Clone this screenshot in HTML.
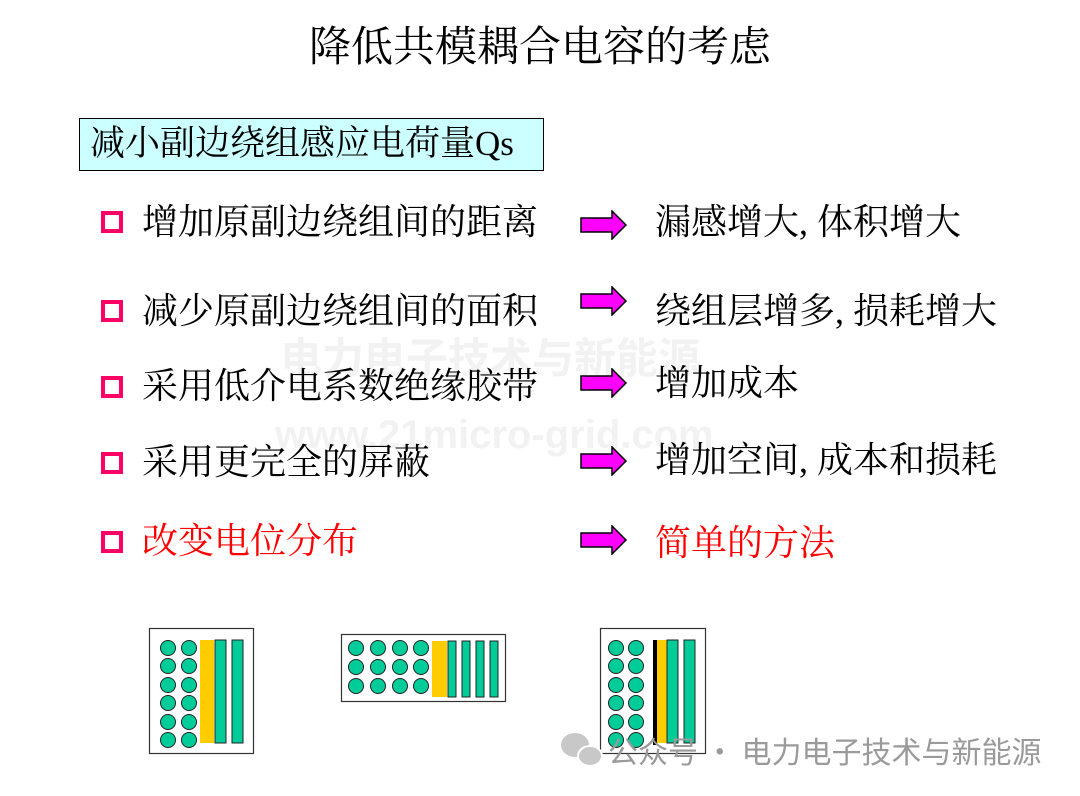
<!DOCTYPE html>
<html><head><meta charset="utf-8"><style>
body{margin:0;width:1080px;height:796px;background:#fff;position:relative;overflow:hidden;font-family:"Liberation Serif","Noto Serif CJK SC",serif;}
.t{position:absolute;white-space:nowrap;line-height:1;}
.sq{position:absolute;left:101px;width:14px;height:14px;border:4px solid #ff0066;background:#fff;}
.ar{position:absolute;left:580px;}
.i{font-size:36px;}
</style></head><body>
<div class="t" style="left:0;width:1080px;text-align:center;top:27px;font-size:42px;">降低共模耦合电容的考虑</div>
<div style="position:absolute;left:79px;top:118px;width:463px;height:51px;background:#ccffff;border:1px solid #000;"></div>
<div class="t" style="left:90px;top:126px;font-size:35px;">减小副边绕组感应电荷量Qs</div>

<div class="t" style="left:280px;top:335px;font-size:42px;color:#f2f2f2;font-weight:bold;font-family:'Noto Sans CJK SC',sans-serif">电力电子技术与新能源</div>
<div class="t" style="left:275px;top:415px;font-size:40px;color:#f2f2f2;font-weight:bold;font-family:'Liberation Sans',sans-serif">www.21micro-grid.com</div>

<div class="sq" style="top:211px"></div><div class="t i" style="left:142px;top:204px;">增加原副边绕组间的距离</div>
<div class="sq" style="top:300px"></div><div class="t i" style="left:142px;top:293px;">减少原副边绕组间的面积</div>
<div class="sq" style="top:376px"></div><div class="t i" style="left:142px;top:368px;">采用低介电系数绝缘胶带</div>
<div class="sq" style="top:452px"></div><div class="t i" style="left:142px;top:444px;">采用更完全的屏蔽</div>
<div class="sq" style="top:531px"></div><div class="t i" style="left:142px;top:523px;color:#ff0000;">改变电位分布</div>

<svg class="ar" style="top:210px" width="48" height="30"><polygon points="1,8 32,8 32,1 46,15 32,29 32,22 1,22" fill="#ff00ff" stroke="#000" stroke-width="1.5"/></svg>
<svg class="ar" style="top:286px" width="48" height="30"><polygon points="1,8 32,8 32,1 46,15 32,29 32,22 1,22" fill="#ff00ff" stroke="#000" stroke-width="1.5"/></svg>
<svg class="ar" style="top:368px" width="48" height="30"><polygon points="1,8 32,8 32,1 46,15 32,29 32,22 1,22" fill="#ff00ff" stroke="#000" stroke-width="1.5"/></svg>
<svg class="ar" style="top:446px" width="48" height="30"><polygon points="1,8 32,8 32,1 46,15 32,29 32,22 1,22" fill="#ff00ff" stroke="#000" stroke-width="1.5"/></svg>
<svg class="ar" style="top:525px" width="48" height="30"><polygon points="1,8 32,8 32,1 46,15 32,29 32,22 1,22" fill="#ff00ff" stroke="#000" stroke-width="1.5"/></svg>

<div class="t i" style="left:655px;top:204px;">漏感增大, 体积增大</div>
<div class="t i" style="left:655px;top:293px;">绕组层增多, 损耗增大</div>
<div class="t i" style="left:655px;top:365px;">增加成本</div>
<div class="t i" style="left:655px;top:442px;">增加空间, 成本和损耗</div>
<div class="t i" style="left:655px;top:525px;color:#ff0000;">简单的方法</div>

<svg style="position:absolute;left:0;top:0" width="1080" height="796">
<g stroke="#333" stroke-width="1.2">
<rect x="149.5" y="628.5" width="104" height="125" fill="#fff"/>
<rect x="341.5" y="634.5" width="164" height="67" fill="#fff"/>
<rect x="600.5" y="628.5" width="105" height="125" fill="#fff"/>
</g>
<g fill="#00cc99" stroke="#222" stroke-width="1">
<circle cx="168" cy="648" r="7.5"/><circle cx="189" cy="648" r="7.5"/>
<circle cx="168" cy="666" r="7.5"/><circle cx="189" cy="666" r="7.5"/>
<circle cx="168" cy="685" r="7.5"/><circle cx="189" cy="685" r="7.5"/>
<circle cx="168" cy="703" r="7.5"/><circle cx="189" cy="703" r="7.5"/>
<circle cx="168" cy="722" r="7.5"/><circle cx="189" cy="722" r="7.5"/>
<circle cx="168" cy="740" r="7.5"/><circle cx="189" cy="740" r="7.5"/>
<circle cx="356" cy="648" r="7.5"/><circle cx="378" cy="648" r="7.5"/><circle cx="400" cy="648" r="7.5"/><circle cx="421" cy="648" r="7.5"/>
<circle cx="356" cy="667" r="7.5"/><circle cx="378" cy="667" r="7.5"/><circle cx="400" cy="667" r="7.5"/><circle cx="421" cy="667" r="7.5"/>
<circle cx="356" cy="686" r="7.5"/><circle cx="378" cy="686" r="7.5"/><circle cx="400" cy="686" r="7.5"/><circle cx="421" cy="686" r="7.5"/>
<circle cx="616" cy="648" r="7.5"/><circle cx="636" cy="648" r="7.5"/>
<circle cx="616" cy="666" r="7.5"/><circle cx="636" cy="666" r="7.5"/>
<circle cx="616" cy="685" r="7.5"/><circle cx="636" cy="685" r="7.5"/>
<circle cx="616" cy="703" r="7.5"/><circle cx="636" cy="703" r="7.5"/>
<circle cx="616" cy="722" r="7.5"/><circle cx="636" cy="722" r="7.5"/>
<circle cx="616" cy="740" r="7.5"/><circle cx="636" cy="740" r="7.5"/>
</g>
<rect x="200" y="640" width="14" height="103" fill="#ffcc00"/>
<rect x="432" y="641" width="15" height="56" fill="#ffcc00"/>
<rect x="653" y="640" width="14" height="103" fill="#ffcc00"/>
<rect x="653" y="640" width="4" height="105" fill="#000"/>
<g fill="#00cc99" stroke="#222" stroke-width="1">
<rect x="215" y="640" width="11" height="103"/><rect x="232" y="640" width="11" height="103"/>
<rect x="448" y="641" width="8" height="56"/><rect x="462" y="641" width="8" height="56"/><rect x="476" y="641" width="8" height="56"/><rect x="490" y="641" width="8" height="56"/>
<rect x="667" y="640" width="11" height="103"/><rect x="684" y="640" width="11" height="103"/>
</g>
<g fill="#c8c8c8"><ellipse cx="575" cy="745" rx="14" ry="12"/><ellipse cx="590" cy="756" rx="12" ry="10" stroke="#fff" stroke-width="2"/></g>
</svg>
<div class="t" style="left:608px;top:735px;font-size:30px;color:#9a9a9a;font-family:'Noto Sans CJK SC',sans-serif">公众号 · 电力电子技术与新能源</div>
</body></html>
